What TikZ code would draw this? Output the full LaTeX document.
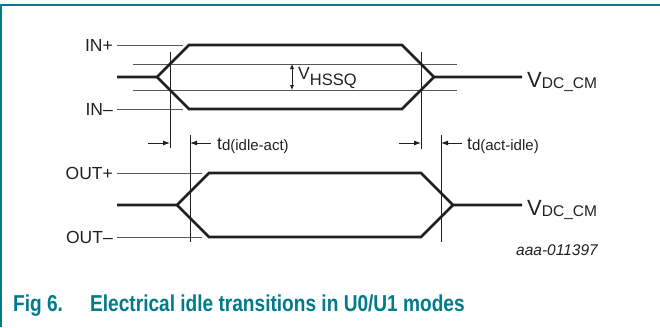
\documentclass[tikz,border=0pt]{standalone}
\usepackage{fontspec}
\setmainfont{Liberation Sans}
\newfontfamily\capfont[FakeStretch=0.83]{Liberation Sans}
\usetikzlibrary{positioning,arrows.meta}
\definecolor{nxpteal}{RGB}{0,123,138}
\definecolor{ink}{RGB}{35,31,32}
\newcommand{\lowsub}[3][15.5]{\raisebox{-#2}{\fontsize{#1}{17}\selectfont #3}}

\begin{document}
\begin{tikzpicture}[
  x=1pt, y=-1pt,
  sig/.style={line width=2.6pt, ink, line join=miter},
  level/.style={line width=0.8pt, ink!75},
  guide/.style={line width=0.9pt, ink},
  dly/.style={-{Latex[length=7pt,width=5pt]}, line width=0.9pt, ink},
  lbl/.style={font=\fontsize{17.5}{20}\selectfont, text=ink, inner sep=0pt},
  capt/.style={font=\capfont\bfseries\fontsize{23}{26}\selectfont, text=nxpteal, inner sep=0pt, anchor=base west},
]
\useasboundingbox (0,0) rectangle (660,327);
\draw[nxpteal, line width=2pt] (0,4.5) -- (660,4.5) (1,4.5) -- (1,327);

% input pair
\coordinate (inA) at (117,77);
\coordinate (inTipL) at (157,77);
\coordinate (inTipR) at (434,77);
\coordinate (inB) at (522,77);
\draw[level] (117,45) -- (183,45) (117,109) -- (183,109);
\draw[level] (133,64) -- (457,64) (133,90) -- (457,90);
\draw[sig] (inA) -- (inTipL) -- (189,45) -- (402,45) -- (inTipR) -- (inB);
\draw[sig] (inTipL) -- (189,109) -- (402,109) -- (inTipR);

% output pair
\coordinate (outA) at (117,205);
\coordinate (outTipL) at (177,205);
\coordinate (outTipR) at (453,205);
\coordinate (outB) at (522,205);
\draw[level] (117,173) -- (202,173) (117,237) -- (202,237);
\draw[sig] (outA) -- (outTipL) -- (209,173) -- (421,173) -- (outTipR) -- (outB);
\draw[sig] (outTipL) -- (209,237) -- (421,237) -- (outTipR);

% timing markers
\coordinate (g1top) at (170,52);  \coordinate (g1bot) at (170,148);
\coordinate (g2top) at (190,135); \coordinate (g2bot) at (190,242);
\coordinate (g3top) at (421,52);  \coordinate (g3bot) at (421,149);
\coordinate (g4top) at (441,135); \coordinate (g4bot) at (441,242);
\draw[guide] (g1top) -- (g1bot) (g2top) -- (g2bot) (g3top) -- (g3bot) (g4top) -- (g4bot);
\draw[dly] (148,143) -- (170,143);
\draw[dly] (211,143) -- (190,143);
\draw[dly] (399,143) -- (421,143);
\draw[dly] (462,143) -- (441,143);
\draw[{Latex[length=5pt,width=4.5pt]}-{Latex[length=5pt,width=4.5pt]}, line width=0.9pt, ink] (292,64) -- (292,90);

\node[lbl, anchor=east] (inp) at (113,45) {IN+};
\node[lbl, anchor=east] (inn) at (113,109) {IN–};
\node[lbl, anchor=east] (outp) at (113,173) {OUT+};
\node[lbl, anchor=east] (outn) at (113,237) {OUT–};
\node[lbl, anchor=base west] (vhssq) at (298,79) {V\lowsub[16.5]{6pt}{HSSQ}};
\node[lbl, anchor=base west, font=\fontsize{22}{24}\selectfont] (vcm1) at (527,87) {V\lowsub{1.5pt}{DC\_CM}};
\node[lbl, anchor=base west, font=\fontsize{22}{24}\selectfont] (vcm2) at (527,215) {V\lowsub{1.5pt}{DC\_CM}};
\node[lbl, anchor=base west] (tia) at (217,149) {t\lowsub[15]{1.5pt}{d(idle-act)}};
\node[lbl, anchor=base west] (tai) at (467,149) {t\lowsub[15]{1.5pt}{d(act-idle)}};
\node[lbl, anchor=base east, font=\itshape\fontsize{15.5}{17}\selectfont] (code) at (598,255) {aaa-011397};

\node[capt] (fig) at (13,311) {Fig 6.};
\node[capt] (title) at (90,311) {Electrical idle transitions in U0/U1 modes};
\end{tikzpicture}
\end{document}
